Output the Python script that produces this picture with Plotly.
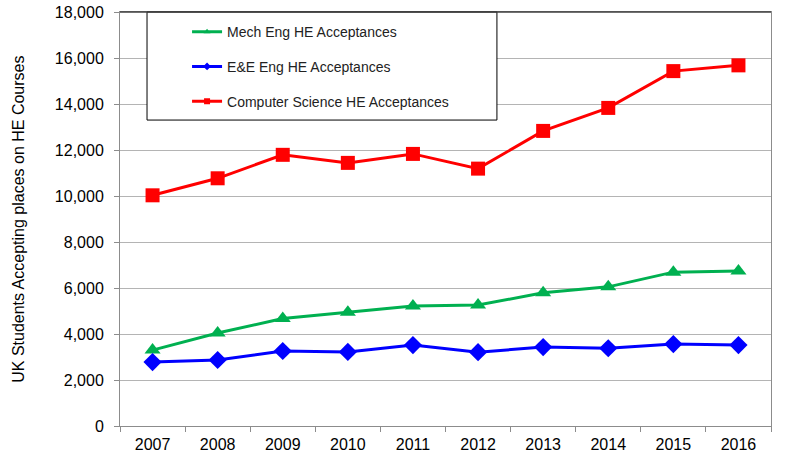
import plotly.graph_objects as go

years = ["2007", "2008", "2009", "2010", "2011", "2012", "2013", "2014", "2015", "2016"]
mech = [3300, 4040, 4670, 4950, 5220, 5260, 5790, 6050, 6690, 6740]
ee = [2780, 2870, 3260, 3220, 3520, 3210, 3430, 3380, 3560, 3520]
cs = [10030, 10770, 11790, 11440, 11830, 11190, 12830, 13830, 15430, 15680]

names = ["Mech Eng HE Acceptances", "E&E Eng HE Acceptances", "Computer Science HE Acceptances"]
colors = ["#00B050", "#0000FF", "#FF0000"]
symbols = ["triangle-up", "diamond", "square"]
series = [mech, ee, cs]

fig = go.Figure()
for vals, c, s in zip(series, colors, symbols):
    fig.add_trace(go.Scatter(x=years, y=vals, mode="lines+markers",
                             line=dict(color=c, width=3),
                             marker=dict(symbol=s, size=14, color=c),
                             showlegend=False, hoverinfo="skip"))
for i, (n, c, s) in enumerate(zip(names, colors, symbols)):
    fig.add_trace(go.Scatter(x=[None], y=[None], mode="lines+markers", name=n,
                             legendgroup=f"g{i}",
                             line=dict(color=c, width=3),
                             marker=dict(symbol=s, size=6, color=c)))

fig.update_layout(
    width=798, height=462,
    margin=dict(l=120, r=27, t=12, b=36),
    paper_bgcolor="white", plot_bgcolor="white",
    font=dict(family="Liberation Sans, Arial", size=16, color="#000000"),
    legend=dict(x=0.103, y=0.99, xanchor="left", yanchor="top",
                bgcolor="rgba(0,0,0,0)", borderwidth=0,
                font=dict(size=14, color="#222222"),
                traceorder="grouped", tracegroupgap=13.5),
    shapes=[
        dict(type="rect", xref="paper", yref="paper", x0=0.0415, x1=0.579, y0=0.739, y1=1.0,
             line=dict(color="#000000", width=1), fillcolor="white", layer="above"),
        dict(type="line", xref="paper", yref="paper", x0=0, x1=1, y0=1, y1=1,
             line=dict(color="#404040", width=1.5), layer="above"),
    ],
    annotations=[
        dict(text="UK Students Accepting places on HE Courses", xref="paper", yref="paper",
             x=-0.157, y=0.5, xanchor="center", yanchor="middle", textangle=-90,
             showarrow=False, font=dict(size=16, color="#000000")),
    ],
)
fig.update_xaxes(type="category", range=[-0.5, 9.5], showline=True, linecolor="#8c8c8c",
                 linewidth=1, mirror=True, ticks="outside", tickson="boundaries",
                 ticklen=5, tickcolor="#8c8c8c", showgrid=False, automargin=False,
                 ticklabelstandoff=4, tickfont=dict(size=16))
fig.update_yaxes(range=[0, 18000], dtick=2000, tickformat=",d", showline=True,
                 linecolor="#8c8c8c", linewidth=1, mirror=True, ticks="outside",
                 ticklen=5, tickcolor="#8c8c8c", showgrid=True, gridcolor="#b4b4b4",
                 gridwidth=1, zeroline=False, tickfont=dict(size=16), automargin=False,
                 ticklabelstandoff=7)

fig.write_html("out.html", config={"displayModeBar": False},
               post_script="document.body.style.margin='0';document.body.style.overflow='hidden';")
